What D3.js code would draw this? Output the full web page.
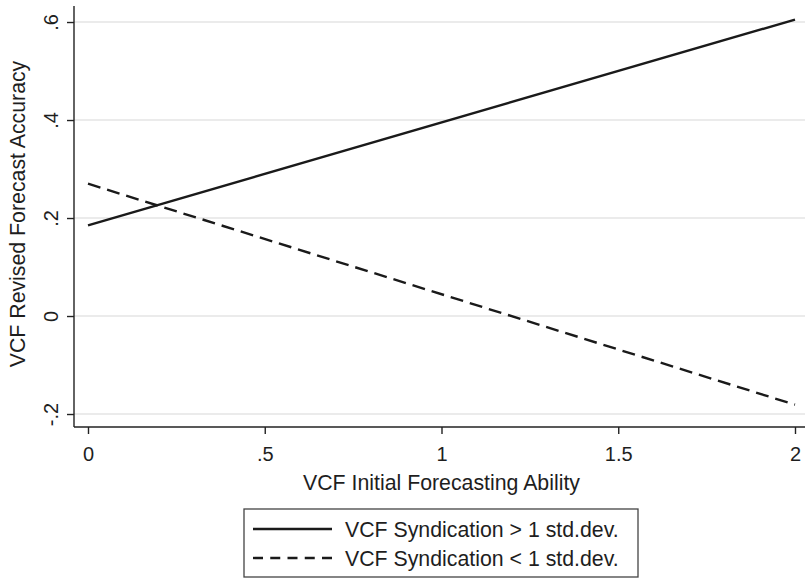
<!DOCTYPE html>
<html>
<head>
<meta charset="utf-8">
<script src="https://cdn.jsdelivr.net/npm/d3@7"></script>
<style>
  html, body { margin: 0; padding: 0; background: #fff; }
  svg { display: block; }
  text { font-family: "Liberation Sans", Arial, Helvetica, sans-serif; fill: #1e1e1e; }
</style>
</head>
<body>
<svg id="chart" width="805" height="579"></svg>
<script>
// ---- data ----
const xValues = [0, 2];
const seriesNames = ["VCF Syndication > 1 std.dev.", "VCF Syndication < 1 std.dev."];
const highSyndication = [0.185, 0.605];
const lowSyndication = [0.270, -0.181];
const xTicks = [0, 0.5, 1, 1.5, 2];
const xTickLabels = ["0", ".5", "1", "1.5", "2"];
const yTicks = [-0.2, 0, 0.2, 0.4, 0.6];
const yTickLabels = ["-.2", "0", ".2", ".4", ".6"];
const xTitle = "VCF Initial Forecasting Ability";
const yTitle = "VCF Revised Forecast Accuracy";

// ---- layout ----
const svg = d3.select("#chart");
const plot = { left: 74, right: 805, top: 6, bottom: 427 };
const x = d3.scaleLinear().domain([-0.0396, 2.0283]).range([plot.left, plot.right]);
const y = d3.scaleLinear().domain([-0.2265, 0.6327]).range([plot.bottom, plot.top]);
const tickFont = 20;
const titleFont = 21.3;

// gridlines
svg.append("g").selectAll("line").data(yTicks).join("line")
  .attr("x1", plot.left).attr("x2", plot.right)
  .attr("y1", d => y(d)).attr("y2", d => y(d))
  .attr("stroke", "#ebebeb").attr("stroke-width", 2);

// y axis
const yAxis = d3.axisLeft(y).tickValues(yTicks)
  .tickFormat((d, i) => yTickLabels[i]).tickSize(7).tickSizeOuter(0);
const gy = svg.append("g").attr("transform", `translate(${plot.left},0)`).call(yAxis);
gy.select(".domain").attr("stroke", "#222").attr("stroke-width", 1.4)
  .attr("d", `M0,${plot.top}V${plot.bottom}`);
gy.selectAll(".tick line").attr("stroke", "#222").attr("stroke-width", 1.4);
gy.selectAll(".tick text")
  .attr("font-size", tickFont)
  .attr("font-family", "'Liberation Sans', Arial, sans-serif")
  .attr("fill", "#1e1e1e")
  .attr("x", null).attr("dy", null)
  .attr("text-anchor", "middle")
  .attr("transform", "translate(-16,0) rotate(-90)")
  .attr("y", 0);

// x axis
const xAxis = d3.axisBottom(x).tickValues(xTicks)
  .tickFormat((d, i) => xTickLabels[i]).tickSize(7).tickSizeOuter(0);
const gx = svg.append("g").attr("transform", `translate(0,${plot.bottom})`).call(xAxis);
gx.select(".domain").attr("stroke", "#222").attr("stroke-width", 1.4)
  .attr("d", `M${plot.left},0H${plot.right}`);
gx.selectAll(".tick line").attr("stroke", "#222").attr("stroke-width", 1.4);
gx.selectAll(".tick text")
  .attr("font-size", tickFont)
  .attr("font-family", "'Liberation Sans', Arial, sans-serif")
  .attr("fill", "#1e1e1e")
  .attr("dy", null)
  .attr("y", 34);

// axis titles
svg.append("text")
  .attr("x", x(1)).attr("y", 490)
  .attr("text-anchor", "middle").attr("font-size", titleFont)
  .text(xTitle);
svg.append("text")
  .attr("transform", `translate(25,214) rotate(-90)`)
  .attr("text-anchor", "middle").attr("font-size", titleFont)
  .text(yTitle);

// lines
const line = d3.line().x(d => x(d[0])).y(d => y(d[1]));
const series = [
  { name: seriesNames[0], values: highSyndication, dash: null },
  { name: seriesNames[1], values: lowSyndication, dash: "13,7" }
];
svg.append("g").selectAll("path").data(series).join("path")
  .attr("d", s => line(xValues.map((xv, i) => [xv, s.values[i]])))
  .attr("fill", "none").attr("stroke", "#1a1a1a").attr("stroke-width", 2.4)
  .attr("stroke-dasharray", s => s.dash);

// legend
const legend = svg.append("g");
legend.append("rect")
  .attr("x", 244).attr("y", 509).attr("width", 394).attr("height", 68)
  .attr("fill", "#fff").attr("stroke", "#444").attr("stroke-width", 1.3);
const rows = legend.selectAll("g.row").data(series).join("g")
  .attr("class", "row")
  .attr("transform", (d, i) => `translate(0,${529 + i * 29})`);
rows.append("line")
  .attr("x1", 253).attr("x2", 332).attr("y1", 0).attr("y2", 0)
  .attr("stroke", "#1a1a1a").attr("stroke-width", 2.4)
  .attr("stroke-dasharray", d => d.dash ? "10,7.25" : null);
rows.append("text")
  .attr("x", 345).attr("y", 7.5)
  .attr("font-size", titleFont)
  .text(d => d.name);
</script>
</body>
</html>
